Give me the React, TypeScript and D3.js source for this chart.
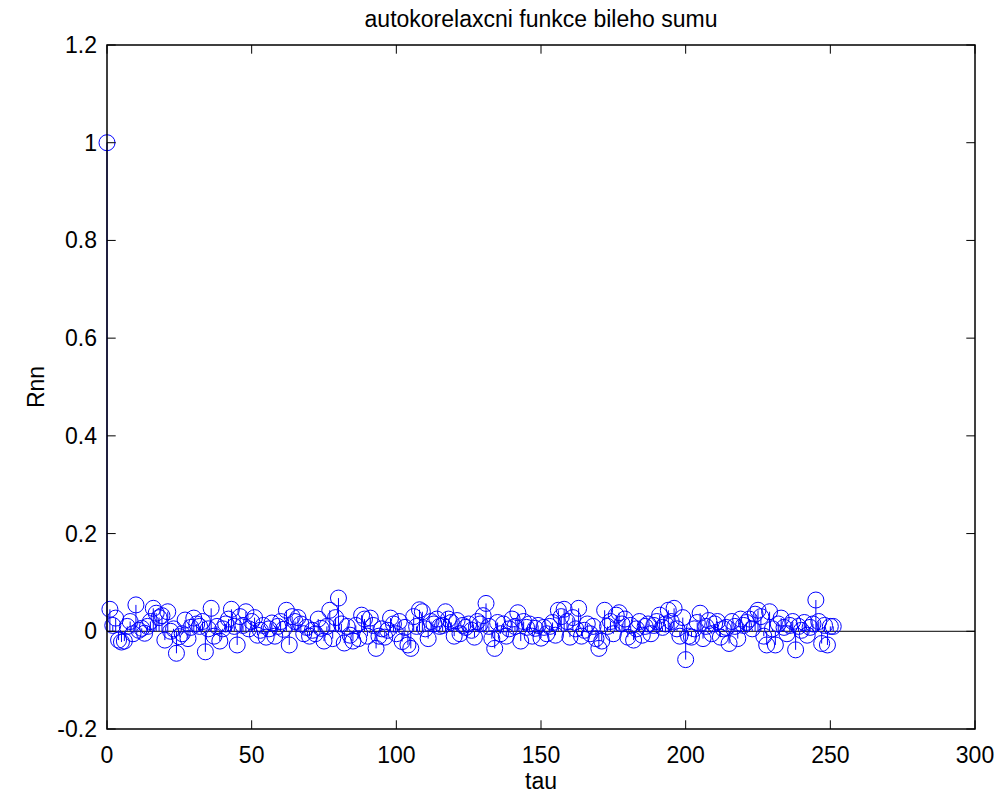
import React from 'react';
import * as d3 from 'd3';

// autocorrelation values, lag 0..251
const rnn: number[] = [
  1, 0.045, 0.012, 0.027, -0.018, -0.022, -0.02, 0.01, 0.02, -0.005,
  0.054, 0.002, 0.006, -0.004, 0.01, 0.02, 0.047, 0.037, 0.028, 0.032,
  -0.018, 0.04, 0, 0.005, -0.045, -0.011, -0.005, 0.023, -0.015, 0.008,
  0.027, 0.015, 0.01, 0.02, -0.042, 0.005, 0.047, -0.01, 0.01, -0.02,
  0.005, 0.015, 0.025, 0.045, 0.01, -0.028, 0.03, 0.012, 0.04, 0.005,
  0.02, 0.028, -0.008, 0.002, 0.012, -0.012, 0.005, 0.017, -0.01, 0.01,
  0.02, 0.004, 0.043, -0.028, 0.03, 0.02, 0.028, 0.015, -0.005, 0.008,
  -0.01, 0.002, -0.005, 0.025, 0.006, -0.02, 0.01, 0.043, -0.015, 0.028,
  0.068, 0.015, -0.024, 0.01, -0.008, -0.02, 0.012, -0.015, 0.033, 0.025,
  -0.01, 0.027, 0.012, -0.035, -0.01, 0.005, -0.012, 0.002, 0.027, 0.015,
  -0.005, 0.02, -0.021, 0.008, -0.028, -0.035, 0.03, 0.01, 0.044, 0.04,
  0.005, -0.015, 0.02, 0.015, 0.025, 0.01, 0.012, 0.04, 0.025, 0.018,
  -0.01, 0.022, -0.005, 0.012, 0.008, 0.015, 0.002, -0.012, 0.02, 0.015,
  0.032, 0.057, 0.01, -0.015, -0.035, 0.018, -0.005, 0.015, -0.01, 0.005,
  0.025, 0.01, 0.038, -0.02, 0.02, 0.008, 0.015, -0.01, 0.006, 0.012,
  -0.014, 0.008, -0.005, 0.01, 0.018, -0.008, 0.043, 0.03, 0.045, 0.02,
  -0.012, 0.028, 0.005, 0.047, -0.01, 0.002, 0.015, -0.005, 0.01, -0.015,
  -0.035, -0.02, 0.043, 0.01, 0.02, -0.005, 0.033, 0.038, 0.015, 0.025,
  -0.012, 0.012, -0.018, 0.005, 0.02, -0.008, 0.01, 0.015, -0.005, 0.012,
  0.02, 0.033, 0.008, 0.015, 0.043, 0.02, 0.047, 0.005, -0.01, 0.028,
  -0.058, -0.01, -0.012, 0.005, 0.018, 0.037, -0.015, 0.01, 0.022, -0.005,
  0.015, 0.02, -0.012, 0.005, 0.008, -0.025, 0.02, 0.01, -0.015, 0.025,
  0.012, 0.018, 0.025, 0.005, 0.035, 0.043, 0.03, -0.01, -0.028, 0.04,
  0.005, -0.028, 0.015, 0.027, 0.008, -0.005, 0.012, 0.02, -0.038, 0.01,
  0.002, 0.018, -0.008, 0.008, 0.015, 0.064, 0.02, -0.025, 0.012, -0.028,
  0.01, 0.01,
];
const xTicks = [0, 50, 100, 150, 200, 250, 300];
const yTicks = [-0.2, 0, 0.2, 0.4, 0.6, 0.8, 1, 1.2];

const W = 998;
const H = 797;
const left = 107, right = 975, top = 45, bottom = 729;
const font = 'Arial, "Liberation Sans", sans-serif';

export default function App() {
  const x = d3.scaleLinear().domain([0, 300]).range([left, right]);
  const y = d3.scaleLinear().domain([-0.2, 1.2]).range([bottom, top]);
  const tl = 8.7;

  return (
    <svg width={W} height={H} style={{position: 'absolute', left: 0, top: 0, background: '#fff'}}>
      <rect x={0} y={0} width={W} height={H} fill="#fff" />
      {/* baseline */}
      <line x1={left} x2={right} y1={y(0)} y2={y(0)} stroke="#000" strokeWidth={1} />
      {/* stems */}
      {rnn.map((v, i) => (
        <line key={'s' + i} x1={x(i)} x2={x(i)} y1={y(0)} y2={y(v)} stroke="#0000ff" strokeWidth={1} />
      ))}
      {rnn.map((v, i) => (
        <circle key={'c' + i} cx={x(i)} cy={y(v)} r={8} fill="none" stroke="#0000ff" strokeWidth={1} />
      ))}
      {/* ticks */}
      {xTicks.map(t => (
        <g key={'xt' + t}>
          <line x1={x(t)} x2={x(t)} y1={bottom} y2={bottom - tl} stroke="#000" />
          <line x1={x(t)} x2={x(t)} y1={top} y2={top + tl} stroke="#000" />
          <text x={x(t)} y={763} textAnchor="middle" fontFamily={font} fontSize={23}>{t}</text>
        </g>
      ))}
      {yTicks.map(t => (
        <g key={'yt' + t}>
          <line x1={left} x2={left + tl} y1={y(t)} y2={y(t)} stroke="#000" />
          <line x1={right} x2={right - tl} y1={y(t)} y2={y(t)} stroke="#000" />
          <text x={97} y={y(t) + 8} textAnchor="end" fontFamily={font} fontSize={23}>{String(+t.toFixed(1))}</text>
        </g>
      ))}
      {/* box */}
      <rect x={left} y={top} width={right - left} height={bottom - top} fill="none" stroke="#000" strokeWidth={1.5} />
      <text x={(left + right) / 2} y={27} textAnchor="middle" fontFamily={font} fontSize={23}>autokorelaxcni funkce bileho sumu</text>
      <text x={(left + right) / 2} y={789} textAnchor="middle" fontFamily={font} fontSize={23}>tau</text>
      <text transform={`translate(44,${(top + bottom) / 2}) rotate(-90)`} textAnchor="middle" fontFamily={font} fontSize={23}>Rnn</text>
    </svg>
  );
}
